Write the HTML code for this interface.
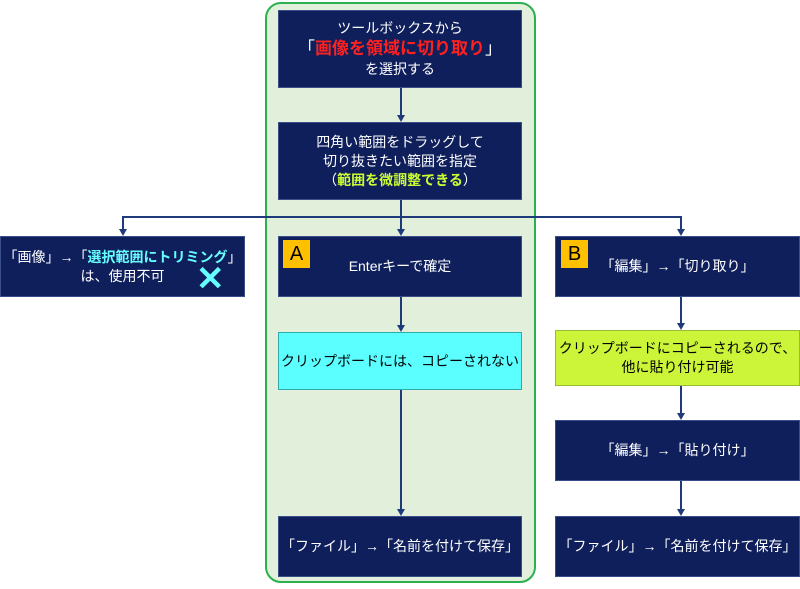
<!DOCTYPE html>
<html><head><meta charset="utf-8"><style>
body{margin:0;width:800px;height:589px;background:#fff;position:relative;overflow:hidden;font-family:"Liberation Sans","Noto Sans CJK JP",sans-serif;}
.g{position:absolute;left:265px;top:2px;width:267px;height:577px;border:2px solid #2ab04e;border-radius:16px;background:#e2efda;}
.b{position:absolute;background:#0f1f5c;color:#fff;font-size:14px;line-height:19px;display:flex;align-items:center;justify-content:center;text-align:center;box-sizing:border-box;border:1px solid #3a4f8a;}
.b>div{white-space:nowrap;}
.l{position:absolute;background:#1f3a78;}
.ar{position:absolute;width:0;height:0;border-left:4px solid transparent;border-right:4px solid transparent;border-top:7px solid #1f3a78;}
.bd{position:absolute;background:#ffc000;color:#000;font-size:20px;width:27px;height:28px;display:flex;align-items:center;justify-content:center;}
</style></head><body>
<div class="g"></div>
<div class="b" style="left:278px;top:10px;width:244px;height:78px"><div>ツールボックスから<br><span style="font-size:17px;line-height:22px">「<b style="color:#ff2020">画像を領域に切り取り</b>」</span><br>を選択する</div></div>
<div class="l" style="left:400px;top:88px;width:1.5px;height:28px"></div><div class="ar" style="left:396.5px;top:115px"></div>
<div class="b" style="left:278px;top:122px;width:244px;height:78px"><div>四角い範囲をドラッグして<br>切り抜きたい範囲を指定<br>（<b style="color:#ccff33">範囲を微調整できる</b>）</div></div>
<div class="l" style="left:400px;top:200px;width:1.5px;height:30px"></div>
<div class="l" style="left:122px;top:216px;width:559px;height:1.5px"></div>
<div class="l" style="left:122px;top:216px;width:1.5px;height:14px"></div>
<div class="l" style="left:680px;top:216px;width:1.5px;height:14px"></div>
<div class="ar" style="left:118.5px;top:229px"></div><div class="ar" style="left:396.5px;top:229px"></div><div class="ar" style="left:676.5px;top:229px"></div>
<div class="b" style="left:0;top:236px;width:245px;height:61px"><div>「画像」→「<b style="color:#66ffff">選択範囲にトリミング</b>」<br>は、使用不可</div></div>
<div style="position:absolute;left:196px;top:262px;color:#66ffff;font-size:34px;line-height:34px;font-weight:bold">✕</div>
<div class="b" style="left:278px;top:236px;width:244px;height:61px"><div>Enterキーで確定</div></div>
<div class="bd" style="left:283px;top:240px">A</div>
<div class="b" style="left:555px;top:236px;width:245px;height:61px"><div>「編集」→「切り取り」</div></div>
<div class="bd" style="left:561px;top:240px">B</div>
<div class="l" style="left:400px;top:297px;width:1.5px;height:29px"></div><div class="ar" style="left:396.5px;top:325px"></div>
<div class="b" style="left:278px;top:332px;width:244px;height:58px;background:#5cffff;color:#000;border-color:#3aa"><div>クリップボードには、コピーされない</div></div>
<div class="l" style="left:400px;top:390px;width:1.5px;height:120px"></div><div class="ar" style="left:396.5px;top:509px"></div>
<div class="b" style="left:278px;top:516px;width:244px;height:61px"><div>「ファイル」→「名前を付けて保存」</div></div>
<div class="l" style="left:680px;top:297px;width:1.5px;height:27px"></div><div class="ar" style="left:676.5px;top:323px"></div>
<div class="b" style="left:555px;top:330px;width:245px;height:56px;background:#ccf53a;color:#000;border-color:#9b3"><div>クリップボードにコピーされるので、<br>他に貼り付け可能</div></div>
<div class="l" style="left:680px;top:386px;width:1.5px;height:28px"></div><div class="ar" style="left:676.5px;top:413px"></div>
<div class="b" style="left:555px;top:420px;width:245px;height:61px"><div>「編集」→「貼り付け」</div></div>
<div class="l" style="left:680px;top:481px;width:1.5px;height:29px"></div><div class="ar" style="left:676.5px;top:509px"></div>
<div class="b" style="left:555px;top:516px;width:245px;height:61px"><div>「ファイル」→「名前を付けて保存」</div></div>
</body></html>
